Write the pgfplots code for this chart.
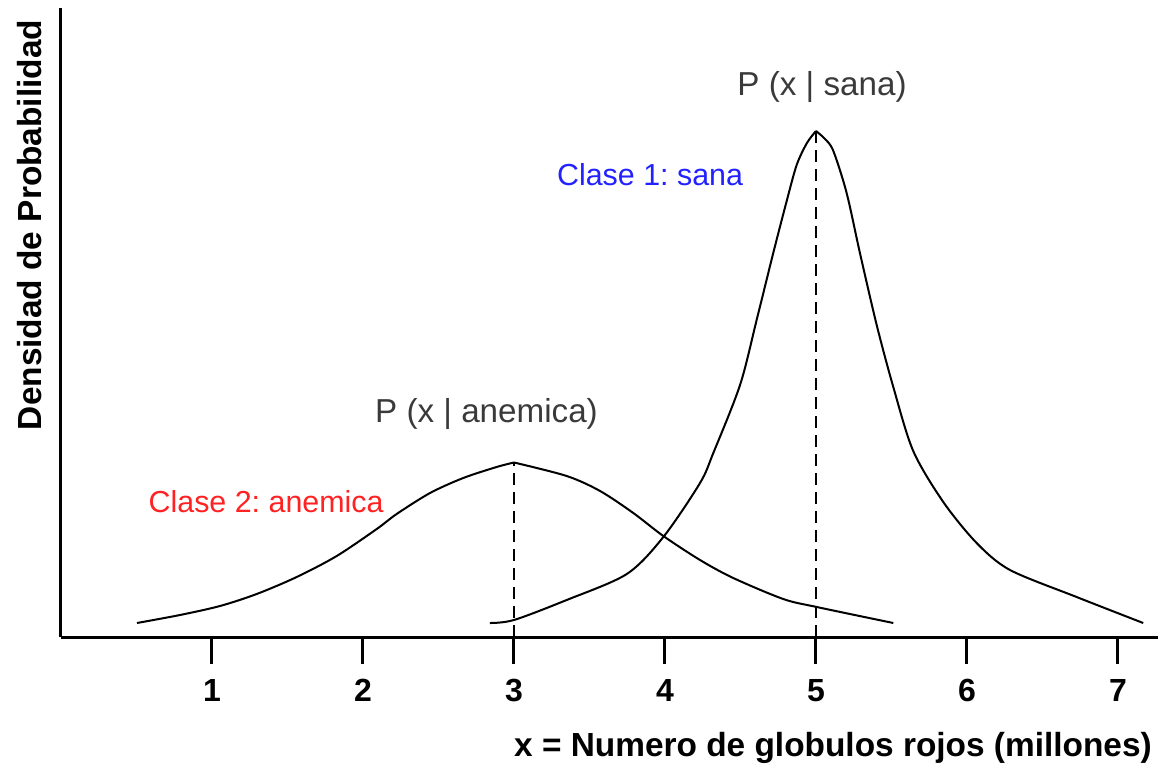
\documentclass[border=0pt]{standalone}
\usepackage{pgfplots}
\pgfplotsset{compat=1.18}
\usepackage{fontspec}
\setmainfont{Liberation Sans}
\frenchspacing
\definecolor{labelgray}{HTML}{3A3A3A}
\definecolor{clsred}{HTML}{FF2222}
\definecolor{clsblue}{HTML}{2222FF}
\newcommand{\lbl}{\fontsize{16.7}{19}\selectfont}
\newcommand{\tck}{\fontsize{16}{19}\selectfont}
\newcommand{\ann}{\fontsize{16.6}{19}\selectfont}
\newcommand{\cls}{\fontsize{15.2}{17}\selectfont}
\begin{document}
\begin{tikzpicture}
\useasboundingbox (0,0) rectangle (579pt,386.5pt);
\begin{axis}[
  scale only axis,
  width=548.5pt, height=314.5pt,
  anchor=south west, at={(30.5pt,68pt)},
  xmin=0, xmax=7.265, ymin=0, ymax=629,
  axis x line=bottom, axis y line=left,
  axis line style={-, line width=1.5pt},
  xtick={1,2,3,4,5,6,7}, ytick=\empty,
  tick align=outside,
  major tick length=13.5pt,
  every tick/.style={line width=1.5pt, black},
  /pgf/number format/assume math mode=true,
  xticklabel style={font=\tck\bfseries, yshift=-4pt},
  xlabel={x = Numero de globulos rojos (millones)},
  xlabel style={font=\lbl\bfseries, at={(axis description cs:0.7037,-0.1765)}, anchor=center},
  ylabel={Densidad de Probabilidad},
  ylabel style={font=\lbl\bfseries, at={(axis description cs:-0.0283,0.655)}, anchor=center, rotate=0},
  clip=false,
]
% anemic class density, rising half and falling half
\addplot[black, line width=1pt, smooth] coordinates {
  (0.503,14) (0.788,22) (1.053,31) (1.296,43) (1.561,60) (1.826,81)
  (2.091,108) (2.223,123) (2.444,144) (2.664,159) (2.885,170) (3.0,174.5)};
\addplot[black, line width=1pt, smooth] coordinates {
  (3.0,174.5) (3.349,161) (3.570,146) (3.790,124) (3.989,101) (4.232,77)
  (4.452,59) (4.783,38) (5.005,30) (5.512,14)};
% healthy class density, rising half and falling half
\addplot[black, line width=1pt, smooth] coordinates {
  (2.841,14) (3.0,17) (3.349,37) (3.747,63) (3.989,100) (4.232,154)
  (4.320,184) (4.497,252) (4.607,317) (4.717,384) (4.806,436)
  (4.872,472) (4.94,494) (5.0,506)};
\addplot[black, line width=1pt, smooth] coordinates {
  (5.0,506) (5.06,498) (5.115,486) (5.203,444) (5.291,384) (5.402,312) (5.512,250)
  (5.644,186) (5.843,135) (6.064,94) (6.285,67) (6.726,40) (7.167,14)};
% means of each class
\addplot[black, line width=0.75pt, dash pattern=on 6pt off 3.5pt] coordinates {(3,0) (3,174.5)};
\addplot[black, line width=0.75pt, dash pattern=on 6pt off 3.5pt] coordinates {(5,0) (5,506)};
\node[font=\ann, text=labelgray, anchor=base] at (axis cs:5.04,542) {P (x | sana)};
\node[font=\ann, text=labelgray, anchor=base] at (axis cs:2.818,215) {P (x | anemica)};
\node[font=\cls, text=clsred, anchor=base west, inner sep=0pt] at (axis cs:0.578,125) {Clase 2: anemica};
\node[font=\cls, text=clsblue, anchor=base west, inner sep=0pt] at (axis cs:3.283,452) {Clase 1: sana};
\end{axis}
\end{tikzpicture}
\end{document}
